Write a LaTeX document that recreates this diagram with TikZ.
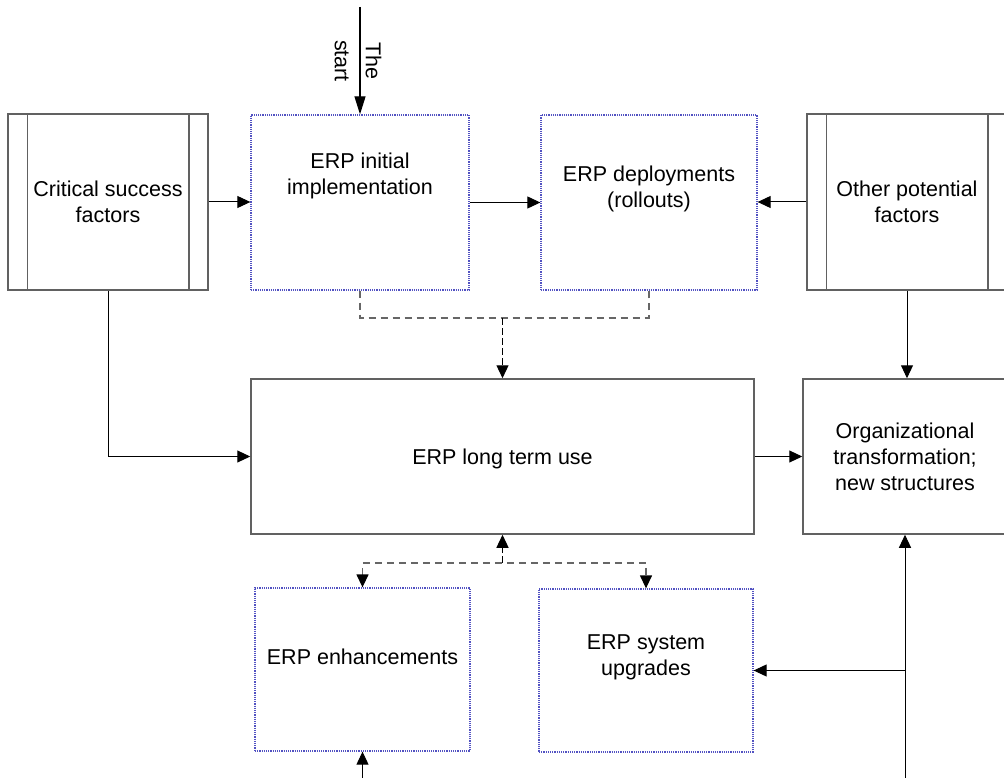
\documentclass[tikz,border=0pt]{standalone}
\usepackage{fontspec}
\setmainfont{Liberation Sans}
\usetikzlibrary{arrows.meta,calc}
\definecolor{boxgray}{gray}{0.38}
\definecolor{dotblue}{rgb}{0.32,0.32,0.76}
\begin{document}
\begin{tikzpicture}[x=1pt,y=-1pt,
  every node/.style={font=\fontsize{21.5}{26}\selectfont, align=center, inner sep=0pt},
  solidbox/.style={draw=boxgray, line width=1.5pt},
  dotbox/.style={draw=dotblue, line width=1.3pt, dash pattern=on 1.2pt off 1pt},
  bigtip/.style={-{Triangle[length=13pt,width=12pt,color=black]}},
  conn/.style={line width=1pt, bigtip},
  dconn/.style={line width=1.3pt, dash pattern=on 7pt off 5pt, draw=black!60},
  dvert/.style={line width=1.2pt, dash pattern=on 7pt off 3pt, draw=black, bigtip}
]
\useasboundingbox (0,0) rectangle (1004,778);
\clip (0,0) rectangle (1004,778);

% side boxes with inner bars
\node[solidbox, minimum width=200, minimum height=176] (csf) at (108,202) {Critical success\\factors};
\node[solidbox, minimum width=200, minimum height=176] (oth) at (907,202) {Other potential\\factors};
\foreach \b in {csf,oth}{
  \draw[boxgray, line width=1.5pt] ($(\b.north west)+(20,0)$) -- ($(\b.south west)+(20,0)$);
  \draw[boxgray, line width=1.5pt] ($(\b.north east)+(-20,0)$) -- ($(\b.south east)+(-20,0)$);
}

% dotted phase boxes
\node[dotbox, minimum width=218, minimum height=175] (init) at (360,202.5) {};
\node (initT) at (360,176) {ERP initial\\implementation};
\node[dotbox, minimum width=216, minimum height=175] (dep) at (649,202.5) {};
\node (depT) at (649,189) {ERP deployments\\(rollouts)};
\node[dotbox, minimum width=215, minimum height=163] (enh) at (362.5,669.5) {};
\node (enhT) at (362.5,657) {ERP enhancements};
\node[dotbox, minimum width=214, minimum height=163] (upg) at (646,670.5) {};
\node (upgT) at (646,657.5) {ERP system\\upgrades};

% solid boxes
\node[solidbox, minimum width=503, minimum height=155] (lt) at (502.5,456.5) {};
\node (ltT) at (502.5,459) {ERP long term use};
\node[solidbox, minimum width=204, minimum height=155] (org) at (905,456.5) {Organizational\\transformation;\\new structures};

% start arrow
\coordinate (st) at (360,7);
\draw[line width=1.2pt, -{Triangle[length=18pt,width=11pt]}] (st) -- (init.north);
\node[rotate=-90, font=\fontsize{21.5}{31}\selectfont] (startT) at (358,61) {The\\start};

% solid connectors
\draw[conn] (csf.east) -- (init.west |- csf.east);
\draw[conn] (init.east) -- (dep.west |- init.east);
\draw[conn] (oth.west) -- (dep.east |- oth.west);
\draw[conn] (csf.south) |- (lt.west);
\draw[conn] (lt.east) -- (org.west);
\draw[conn] (oth.south) -- (oth.south |- org.north);

% dashed links between phases
\coordinate (busT) at (502.5,318);
\draw[dconn] (init.south) |- (busT) -| (dep.south);
\draw[dvert] (busT) -- (lt.north);
\coordinate (busB) at (502.5,563);
\draw[dvert] (busB) -- (lt.south);
\draw[dconn, {Triangle[length=13pt,width=12pt,color=black]}-{Triangle[length=13pt,width=12pt,color=black]}] (enh.north) |- (busB) -| (upg.north);

% feeds from below
\coordinate (rb) at (905,778);
\coordinate (rj) at (905,670.5);
\draw[conn] (rb) -- (org.south);
\draw[conn] (rj) -- (upg.east);
\coordinate (eb) at (362.5,778);
\draw[conn] (eb) -- (enh.south);
\end{tikzpicture}
\end{document}
